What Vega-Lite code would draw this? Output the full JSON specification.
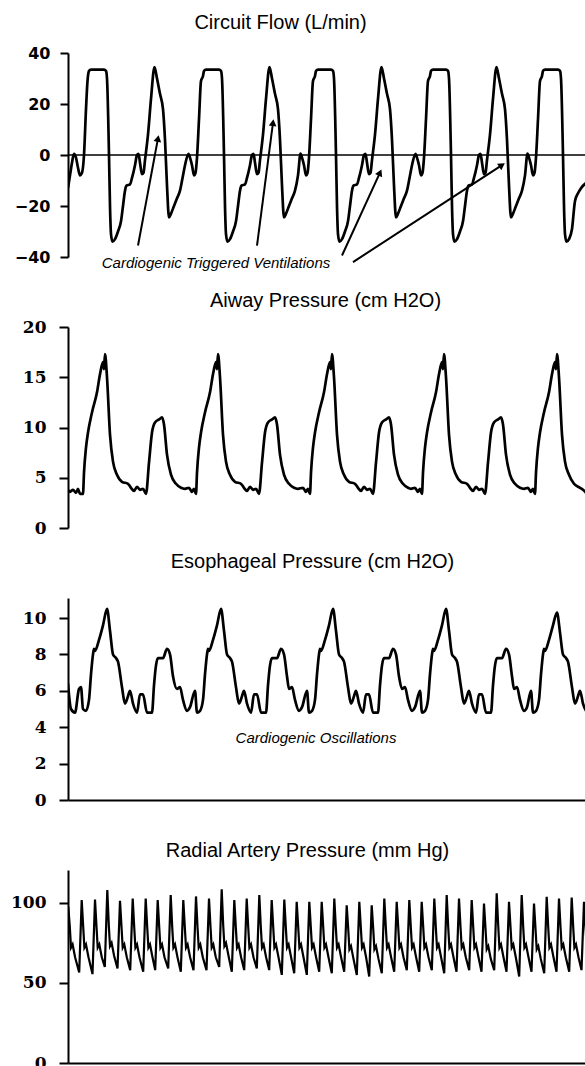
{
"$schema": "https://vega.github.io/schema/vega-lite/v6.json",
"padding": {"left": 10, "top": 12, "right": 0, "bottom": 0},
"background": "white",
"bounds": "flush",
"spacing": 70,
"config": {
  "view": {"stroke": null},
  "axis": {"grid": false, "domainColor": "black", "tickColor": "black", "labelColor": "black", "domainWidth": 2, "tickWidth": 2, "tickSize": 9, "labelPadding": 13, "titleColor": "black"},
  "title": {"font": "Liberation Sans", "fontSize": 20, "fontWeight": "normal", "color": "black", "frame": "group", "anchor": "middle", "baseline": "alphabetic"}
},
"datasets": {
"flow": [
{"t":68,"v":-13},{"t":70,"v":-8},{"t":72,"v":-3},{"t":74,"v":0.5},{"t":76,"v":-1},{"t":78,"v":-5},{"t":80,"v":-8},{"t":82,"v":-7},{"t":84,"v":0},{"t":86,"v":18},{"t":87.5,"v":29},
{"t":88,"v":31},{"t":89,"v":33},{"t":91,"v":33.5},{"t":98,"v":33.5},{"t":104,"v":33.5},{"t":106,"v":33},{"t":107,"v":30},{"t":109,"v":0},{"t":110,"v":-20},{"t":111,"v":-31},{"t":112.5,"v":-34},{"t":115,"v":-33},{"t":118,"v":-30},{"t":121,"v":-26},{"t":123,"v":-20},{"t":125,"v":-14},{"t":126.5,"v":-12},{"t":130,"v":-11.5},{"t":132,"v":-9},{"t":135,"v":-4},{"t":137,"v":0},{"t":138.5,"v":0.5},{"t":140,"v":-3},{"t":142,"v":-7.5},{"t":143.5,"v":-7},{"t":145,"v":-2},{"t":148,"v":8},{"t":151,"v":22},{"t":154.5,"v":34.5},{"t":157,"v":30},{"t":160,"v":24},{"t":163,"v":18},{"t":165,"v":6},{"t":167,"v":-12},{"t":169,"v":-24.5},{"t":171,"v":-23},{"t":174,"v":-20},{"t":177,"v":-17},{"t":180,"v":-14},{"t":183,"v":-8},{"t":185,"v":-4},{"t":188.5,"v":0.5},{"t":190,"v":-1},{"t":192,"v":-4},{"t":194,"v":-8},{"t":195.5,"v":-7},{"t":197,"v":-1},{"t":199,"v":14},{"t":201,"v":29},
{"t":203,"v":31},{"t":204,"v":33},{"t":206,"v":33.5},{"t":213,"v":33.5},{"t":219,"v":33.5},{"t":221,"v":33},{"t":222,"v":30},{"t":224,"v":0},{"t":225,"v":-20},{"t":226,"v":-31},{"t":227.5,"v":-34},{"t":230,"v":-33},{"t":233,"v":-30},{"t":236,"v":-26},{"t":238,"v":-20},{"t":240,"v":-14},{"t":241.5,"v":-12},{"t":245,"v":-11.5},{"t":247,"v":-9},{"t":250,"v":-4},{"t":252,"v":0},{"t":253.5,"v":0.5},{"t":255,"v":-3},{"t":257,"v":-7.5},{"t":258.5,"v":-7},{"t":260,"v":-2},{"t":263,"v":8},{"t":266,"v":22},{"t":269.5,"v":34.5},{"t":272,"v":30},{"t":275,"v":24},{"t":278,"v":18},{"t":280,"v":6},{"t":282,"v":-12},{"t":284,"v":-24.5},{"t":286,"v":-23},{"t":289,"v":-20},{"t":292,"v":-17},{"t":295,"v":-14},{"t":298,"v":-8},{"t":300.5,"v":0.5},{"t":302,"v":-1},{"t":304,"v":-4},{"t":306,"v":-8},{"t":307.5,"v":-7},{"t":309,"v":-1},{"t":311,"v":14},{"t":313,"v":29},
{"t":315,"v":31},{"t":316,"v":33},{"t":318,"v":33.5},{"t":325,"v":33.5},{"t":331,"v":33.5},{"t":333,"v":33},{"t":334,"v":30},{"t":336,"v":0},{"t":337,"v":-20},{"t":338,"v":-31},{"t":339.5,"v":-34},{"t":342,"v":-33},{"t":345,"v":-30},{"t":348,"v":-26},{"t":350,"v":-20},{"t":352,"v":-14},{"t":353.5,"v":-12},{"t":357,"v":-11.5},{"t":359,"v":-9},{"t":362,"v":-4},{"t":364,"v":0},{"t":365.5,"v":0.5},{"t":367,"v":-3},{"t":369,"v":-7.5},{"t":370.5,"v":-7},{"t":372,"v":-2},{"t":375,"v":8},{"t":378,"v":22},{"t":381.5,"v":34.5},{"t":384,"v":30},{"t":387,"v":24},{"t":390,"v":18},{"t":392,"v":6},{"t":394,"v":-12},{"t":396,"v":-24.5},{"t":398,"v":-23},{"t":401,"v":-20},{"t":404,"v":-17},{"t":407,"v":-14},{"t":410,"v":-8},{"t":412,"v":-4},{"t":415.5,"v":0.5},{"t":417,"v":-1},{"t":419,"v":-4},{"t":421,"v":-8},{"t":422.5,"v":-7},{"t":424,"v":-1},{"t":426,"v":14},{"t":428,"v":29},
{"t":430,"v":31},{"t":431,"v":33},{"t":433,"v":33.5},{"t":440,"v":33.5},{"t":446,"v":33.5},{"t":448,"v":33},{"t":449,"v":30},{"t":451,"v":0},{"t":452,"v":-20},{"t":453,"v":-31},{"t":454.5,"v":-34},{"t":457,"v":-33},{"t":460,"v":-30},{"t":463,"v":-26},{"t":465,"v":-20},{"t":467,"v":-14},{"t":468.5,"v":-12},{"t":472,"v":-11.5},{"t":474,"v":-9},{"t":477,"v":-4},{"t":479,"v":0},{"t":480.5,"v":0.5},{"t":482,"v":-3},{"t":484,"v":-7.5},{"t":485.5,"v":-7},{"t":487,"v":-2},{"t":490,"v":8},{"t":493,"v":22},{"t":496.5,"v":34.5},{"t":499,"v":30},{"t":502,"v":24},{"t":505,"v":18},{"t":507,"v":6},{"t":509,"v":-12},{"t":511,"v":-24.5},{"t":513,"v":-23},{"t":516,"v":-20},{"t":519,"v":-17},{"t":522,"v":-14},{"t":525,"v":-8},{"t":527.5,"v":0.5},{"t":529,"v":-1},{"t":531,"v":-4},{"t":533,"v":-8},{"t":534.5,"v":-7},{"t":536,"v":-1},{"t":538,"v":14},{"t":540,"v":29},
{"t":542,"v":31},{"t":543,"v":33},{"t":545,"v":33.5},{"t":552,"v":33.5},{"t":558,"v":33.5},{"t":560,"v":33},{"t":561,"v":30},{"t":563,"v":0},{"t":564,"v":-20},{"t":565,"v":-31},{"t":566.5,"v":-34},{"t":569,"v":-33},{"t":572,"v":-29},{"t":575,"v":-18},{"t":578,"v":-15},{"t":581,"v":-13},{"t":586,"v":-11}
],
"paw": [
{"t":68,"v":3.8},{"t":70,"v":3.6},{"t":73,"v":3.8},{"t":76,"v":3.5},{"t":78,"v":3.9},{"t":80,"v":3.4},{"t":83,"v":3.4},
{"t":84,"v":5.5},{"t":86,"v":8},{"t":88,"v":9.5},{"t":92,"v":11.5},{"t":97,"v":13.5},{"t":100,"v":15.3},{"t":103,"v":16.5},{"t":104,"v":15.8},{"t":105,"v":17.3},{"t":107,"v":15},{"t":110,"v":9.3},{"t":113,"v":6.6},{"t":117,"v":5.3},{"t":122,"v":4.6},{"t":128,"v":4.4},{"t":131,"v":4.0},{"t":134,"v":3.7},{"t":137,"v":4.1},{"t":140,"v":3.8},{"t":143,"v":3.9},{"t":146,"v":3.4},{"t":149,"v":6.5},{"t":152,"v":9.5},{"t":155,"v":10.5},{"t":159,"v":10.8},{"t":162,"v":11},{"t":164,"v":10.3},{"t":167,"v":7.3},{"t":171,"v":5.3},{"t":176,"v":4.4},{"t":181,"v":4.0},{"t":185,"v":3.9},{"t":189,"v":4.0},{"t":192,"v":3.6},{"t":194,"v":3.9},{"t":196,"v":3.4},
{"t":197,"v":5.5},{"t":199,"v":8},{"t":201,"v":9.5},{"t":205,"v":11.5},{"t":210,"v":13.5},{"t":213,"v":15.3},{"t":216,"v":16.5},{"t":217,"v":15.8},{"t":218,"v":17.3},{"t":220,"v":15},{"t":223,"v":9.3},{"t":226,"v":6.6},{"t":230,"v":5.3},{"t":235,"v":4.6},{"t":241,"v":4.4},{"t":244,"v":4.0},{"t":247,"v":3.7},{"t":250,"v":4.1},{"t":253,"v":3.8},{"t":256,"v":3.9},{"t":259,"v":3.4},{"t":262,"v":6.5},{"t":265,"v":9.5},{"t":268,"v":10.5},{"t":272,"v":10.8},{"t":275,"v":11},{"t":277,"v":10.3},{"t":280,"v":7.3},{"t":284,"v":5.3},{"t":289,"v":4.4},{"t":294,"v":4.0},{"t":298,"v":3.9},{"t":303,"v":4.0},{"t":306,"v":3.6},{"t":308,"v":3.9},{"t":310,"v":3.4},
{"t":311,"v":5.5},{"t":313,"v":8},{"t":315,"v":9.5},{"t":319,"v":11.5},{"t":324,"v":13.5},{"t":327,"v":15.3},{"t":330,"v":16.5},{"t":331,"v":15.8},{"t":332,"v":17.3},{"t":334,"v":15},{"t":337,"v":9.3},{"t":340,"v":6.6},{"t":344,"v":5.3},{"t":349,"v":4.6},{"t":355,"v":4.4},{"t":358,"v":4.0},{"t":361,"v":3.7},{"t":364,"v":4.1},{"t":367,"v":3.8},{"t":370,"v":3.9},{"t":373,"v":3.4},{"t":376,"v":6.5},{"t":379,"v":9.5},{"t":382,"v":10.5},{"t":386,"v":10.8},{"t":389,"v":11},{"t":391,"v":10.3},{"t":394,"v":7.3},{"t":398,"v":5.3},{"t":403,"v":4.4},{"t":408,"v":4.0},{"t":411,"v":3.9},{"t":415,"v":4.0},{"t":418,"v":3.6},{"t":420,"v":3.9},{"t":422,"v":3.4},
{"t":423,"v":5.5},{"t":425,"v":8},{"t":427,"v":9.5},{"t":431,"v":11.5},{"t":436,"v":13.5},{"t":439,"v":15.3},{"t":442,"v":16.5},{"t":443,"v":15.8},{"t":444,"v":17.3},{"t":446,"v":15},{"t":449,"v":9.3},{"t":452,"v":6.6},{"t":456,"v":5.3},{"t":461,"v":4.6},{"t":467,"v":4.4},{"t":470,"v":4.0},{"t":473,"v":3.7},{"t":476,"v":4.1},{"t":479,"v":3.8},{"t":482,"v":3.9},{"t":485,"v":3.4},{"t":488,"v":6.5},{"t":491,"v":9.5},{"t":494,"v":10.5},{"t":498,"v":10.8},{"t":501,"v":11},{"t":503,"v":10.3},{"t":506,"v":7.3},{"t":510,"v":5.3},{"t":515,"v":4.4},{"t":520,"v":4.0},{"t":524,"v":3.9},{"t":528,"v":4.0},{"t":531,"v":3.6},{"t":533,"v":3.9},{"t":535,"v":3.4},
{"t":536,"v":5.5},{"t":538,"v":8},{"t":540,"v":9.5},{"t":544,"v":11.5},{"t":549,"v":13.5},{"t":552,"v":15.3},{"t":555,"v":16.5},{"t":556,"v":15.8},{"t":557,"v":17.3},{"t":559,"v":15},{"t":562,"v":9.3},{"t":565,"v":6.6},{"t":569,"v":5.3},{"t":574,"v":4.4},{"t":580,"v":4.0},{"t":583,"v":3.8},{"t":586,"v":3.5}
],
"pes": [
{"t":68,"v":6.4},{"t":71,"v":5.0},{"t":75,"v":4.8},{"t":79,"v":6.1},{"t":81,"v":6.2},{"t":83,"v":5.0},{"t":86,"v":4.9},
{"t":89,"v":5.5},{"t":91,"v":6.9},{"t":93,"v":8.0},{"t":94,"v":8.3},{"t":95,"v":8.2},{"t":99,"v":8.8},{"t":103,"v":9.6},{"t":107,"v":10.5},{"t":110,"v":9.3},{"t":113,"v":8.0},{"t":116,"v":7.8},{"t":118,"v":7.6},{"t":122,"v":6.2},{"t":125,"v":5.3},{"t":128,"v":5.7},{"t":130,"v":6.0},{"t":133,"v":5.3},{"t":137,"v":4.8},{"t":140,"v":5.8},{"t":143,"v":5.8},{"t":147,"v":4.8},{"t":152,"v":4.8},{"t":154,"v":6.3},{"t":156,"v":7.4},{"t":158,"v":7.8},{"t":163,"v":7.8},{"t":167,"v":8.3},{"t":170,"v":8.0},{"t":173,"v":6.8},{"t":177,"v":6.1},{"t":180,"v":6.2},{"t":183,"v":5.5},{"t":187,"v":4.9},{"t":190,"v":5.1},{"t":195,"v":6.0},{"t":197,"v":4.8},{"t":200,"v":4.9},
{"t":203,"v":5.5},{"t":205,"v":6.9},{"t":207,"v":8.0},{"t":208,"v":8.3},{"t":209,"v":8.2},{"t":213,"v":8.8},{"t":217,"v":9.6},{"t":221,"v":10.5},{"t":224,"v":9.3},{"t":227,"v":8.0},{"t":230,"v":7.8},{"t":232,"v":7.6},{"t":236,"v":6.2},{"t":239,"v":5.3},{"t":242,"v":5.7},{"t":244,"v":6.0},{"t":247,"v":5.3},{"t":251,"v":4.8},{"t":254,"v":5.8},{"t":257,"v":5.8},{"t":261,"v":4.8},{"t":266,"v":4.8},{"t":268,"v":6.3},{"t":270,"v":7.4},{"t":272,"v":7.8},{"t":277,"v":7.8},{"t":281,"v":8.3},{"t":284,"v":8.0},{"t":287,"v":6.8},{"t":289,"v":6.1},{"t":292,"v":6.2},{"t":295,"v":5.5},{"t":299,"v":4.9},{"t":302,"v":5.1},{"t":307,"v":6.0},{"t":309,"v":4.8},{"t":312,"v":4.9},
{"t":315,"v":5.5},{"t":317,"v":6.9},{"t":319,"v":8.0},{"t":320,"v":8.3},{"t":321,"v":8.2},{"t":325,"v":8.8},{"t":329,"v":9.6},{"t":333,"v":10.5},{"t":336,"v":9.3},{"t":339,"v":8.0},{"t":342,"v":7.8},{"t":344,"v":7.6},{"t":348,"v":6.2},{"t":351,"v":5.3},{"t":354,"v":5.7},{"t":356,"v":6.0},{"t":359,"v":5.3},{"t":363,"v":4.8},{"t":366,"v":5.8},{"t":369,"v":5.8},{"t":373,"v":4.8},{"t":378,"v":4.8},{"t":380,"v":6.3},{"t":382,"v":7.4},{"t":384,"v":7.8},{"t":389,"v":7.8},{"t":393,"v":8.3},{"t":396,"v":8.0},{"t":399,"v":6.8},{"t":402,"v":6.1},{"t":405,"v":6.2},{"t":408,"v":5.5},{"t":412,"v":4.9},{"t":415,"v":5.1},{"t":420,"v":6.0},{"t":422,"v":4.8},{"t":425,"v":4.9},
{"t":428,"v":5.5},{"t":430,"v":6.9},{"t":432,"v":8.0},{"t":433,"v":8.3},{"t":434,"v":8.2},{"t":438,"v":8.8},{"t":442,"v":9.6},{"t":446,"v":10.5},{"t":449,"v":9.3},{"t":452,"v":8.0},{"t":455,"v":7.8},{"t":457,"v":7.6},{"t":461,"v":6.2},{"t":464,"v":5.3},{"t":467,"v":5.7},{"t":469,"v":6.0},{"t":472,"v":5.3},{"t":476,"v":4.8},{"t":479,"v":5.8},{"t":482,"v":5.8},{"t":486,"v":4.8},{"t":491,"v":4.8},{"t":493,"v":6.3},{"t":495,"v":7.4},{"t":497,"v":7.8},{"t":502,"v":7.8},{"t":506,"v":8.3},{"t":509,"v":8.0},{"t":512,"v":6.8},{"t":514,"v":6.1},{"t":517,"v":6.2},{"t":520,"v":5.5},{"t":524,"v":4.9},{"t":527,"v":5.1},{"t":531,"v":6.0},{"t":533,"v":4.8},{"t":536,"v":4.9},
{"t":539,"v":5.5},{"t":541,"v":6.9},{"t":543,"v":8.0},{"t":544,"v":8.3},{"t":545,"v":8.2},{"t":549,"v":8.8},{"t":553,"v":9.6},{"t":557,"v":10.3},{"t":560,"v":9.2},{"t":563,"v":8.0},{"t":566,"v":7.8},{"t":568,"v":7.6},{"t":572,"v":6.2},{"t":575,"v":5.3},{"t":578,"v":5.7},{"t":580,"v":6.0},{"t":583,"v":5.3},{"t":587,"v":4.8}
],
"art": [
{"t":65.8,"v":56},{"t":68.3,"v":97.5},{"t":69.8,"v":85},{"t":71,"v":72},{"t":72.6,"v":74},{"t":75.1,"v":66},
{"t":79.2,"v":56.5},{"t":81.7,"v":101.7},{"t":83.2,"v":85},{"t":84.4,"v":72},{"t":86,"v":74},{"t":88.5,"v":66},
{"t":92.5,"v":55.5},{"t":95,"v":102},{"t":96.5,"v":85},{"t":97.7,"v":72},{"t":99.3,"v":74},{"t":101.8,"v":66},
{"t":104.8,"v":60},{"t":107.3,"v":108},{"t":108.8,"v":86},{"t":110,"v":73},{"t":111.6,"v":75},{"t":114.1,"v":67},
{"t":117.5,"v":59},{"t":120,"v":101.3},{"t":121.5,"v":85},{"t":122.7,"v":72},{"t":124.3,"v":74},{"t":126.8,"v":66},
{"t":130.2,"v":58},{"t":132.7,"v":102.7},{"t":134.2,"v":85},{"t":135.4,"v":72},{"t":137,"v":74},{"t":139.5,"v":66},
{"t":143.2,"v":57},{"t":145.7,"v":102.7},{"t":147.2,"v":85},{"t":148.4,"v":72},{"t":150,"v":74},{"t":152.5,"v":66},
{"t":155.2,"v":58},{"t":157.7,"v":101.7},{"t":159.2,"v":85},{"t":160.4,"v":72},{"t":162,"v":74},{"t":164.5,"v":66},
{"t":168.2,"v":59},{"t":170.7,"v":104.8},{"t":172.2,"v":85},{"t":173.4,"v":72},{"t":175,"v":74},{"t":177.5,"v":66},
{"t":180.8,"v":57},{"t":183.3,"v":101.7},{"t":184.8,"v":85},{"t":186,"v":72},{"t":187.6,"v":74},{"t":190.1,"v":66},
{"t":193.5,"v":58},{"t":196,"v":104},{"t":197.5,"v":85},{"t":198.7,"v":72},{"t":200.3,"v":74},{"t":202.8,"v":66},
{"t":206.5,"v":58},{"t":209,"v":102.7},{"t":210.5,"v":85},{"t":211.7,"v":72},{"t":213.3,"v":74},{"t":215.8,"v":66},
{"t":219.2,"v":60},{"t":221.7,"v":108.4},{"t":223.2,"v":86},{"t":224.4,"v":73},{"t":226,"v":75},{"t":228.5,"v":67},
{"t":231.8,"v":57},{"t":234.3,"v":101.7},{"t":235.8,"v":85},{"t":237,"v":72},{"t":238.6,"v":74},{"t":241.1,"v":66},
{"t":244.2,"v":58},{"t":246.7,"v":102.7},{"t":248.2,"v":85},{"t":249.4,"v":72},{"t":251,"v":74},{"t":253.5,"v":66},
{"t":256.8,"v":59},{"t":259.3,"v":104.8},{"t":260.8,"v":85},{"t":262,"v":72},{"t":263.6,"v":74},{"t":266.1,"v":66},
{"t":269.2,"v":58},{"t":271.7,"v":101.7},{"t":273.2,"v":85},{"t":274.4,"v":72},{"t":276,"v":74},{"t":278.5,"v":66},
{"t":281.8,"v":55},{"t":284.3,"v":102},{"t":285.8,"v":85},{"t":287,"v":72},{"t":288.6,"v":74},{"t":291.1,"v":66},
{"t":294.2,"v":56},{"t":296.7,"v":100.6},{"t":298.2,"v":85},{"t":299.4,"v":72},{"t":301,"v":74},{"t":303.5,"v":66},
{"t":306.8,"v":55},{"t":309.3,"v":100.6},{"t":310.8,"v":85},{"t":312,"v":72},{"t":313.6,"v":74},{"t":316.1,"v":66},
{"t":319.2,"v":57},{"t":321.7,"v":100.6},{"t":323.2,"v":85},{"t":324.4,"v":72},{"t":326,"v":74},{"t":328.5,"v":66},
{"t":331.8,"v":56},{"t":334.3,"v":102.7},{"t":335.8,"v":85},{"t":337,"v":72},{"t":338.6,"v":74},{"t":341.1,"v":66},
{"t":344.2,"v":57},{"t":346.7,"v":98.5},{"t":348.2,"v":84},{"t":349.4,"v":71},{"t":351,"v":73},{"t":353.5,"v":65},
{"t":356.8,"v":55},{"t":359.3,"v":100.6},{"t":360.8,"v":85},{"t":362,"v":72},{"t":363.6,"v":74},{"t":366.1,"v":66},
{"t":369.2,"v":54},{"t":371.7,"v":98.5},{"t":373.2,"v":84},{"t":374.4,"v":71},{"t":376,"v":73},{"t":378.5,"v":65},
{"t":381.8,"v":56},{"t":384.3,"v":102.7},{"t":385.8,"v":85},{"t":387,"v":72},{"t":388.6,"v":74},{"t":391.1,"v":66},
{"t":394.2,"v":57},{"t":396.7,"v":100.6},{"t":398.2,"v":85},{"t":399.4,"v":72},{"t":401,"v":74},{"t":403.5,"v":66},
{"t":406.8,"v":58},{"t":409.3,"v":101.7},{"t":410.8,"v":85},{"t":412,"v":72},{"t":413.6,"v":74},{"t":416.1,"v":66},
{"t":419.2,"v":57},{"t":421.7,"v":100.6},{"t":423.2,"v":85},{"t":424.4,"v":72},{"t":426,"v":74},{"t":428.5,"v":66},
{"t":431.8,"v":58},{"t":434.3,"v":102.7},{"t":435.8,"v":85},{"t":437,"v":72},{"t":438.6,"v":74},{"t":441.1,"v":66},
{"t":444.2,"v":56},{"t":446.7,"v":104.8},{"t":448.2,"v":85},{"t":449.4,"v":72},{"t":451,"v":74},{"t":453.5,"v":66},
{"t":456.5,"v":57},{"t":459,"v":102.7},{"t":460.5,"v":85},{"t":461.7,"v":72},{"t":463.3,"v":74},{"t":465.8,"v":66},
{"t":469.2,"v":58},{"t":471.7,"v":101.7},{"t":473.2,"v":85},{"t":474.4,"v":72},{"t":476,"v":74},{"t":478.5,"v":66},
{"t":481.5,"v":57},{"t":484,"v":99.6},{"t":485.5,"v":84},{"t":486.7,"v":71},{"t":488.3,"v":73},{"t":490.8,"v":65},
{"t":494.2,"v":58},{"t":496.7,"v":105.9},{"t":498.2,"v":86},{"t":499.4,"v":72},{"t":501,"v":74},{"t":503.5,"v":66},
{"t":506.5,"v":57},{"t":509,"v":100.6},{"t":510.5,"v":85},{"t":511.7,"v":72},{"t":513.3,"v":74},{"t":515.8,"v":66},
{"t":519.2,"v":54},{"t":521.7,"v":104.8},{"t":523.2,"v":85},{"t":524.4,"v":72},{"t":526,"v":74},{"t":528.5,"v":66},
{"t":531.5,"v":57},{"t":534,"v":99.6},{"t":535.5,"v":84},{"t":536.7,"v":71},{"t":538.3,"v":73},{"t":540.8,"v":65},
{"t":544.2,"v":56},{"t":546.7,"v":103.8},{"t":548.2,"v":85},{"t":549.4,"v":72},{"t":551,"v":74},{"t":553.5,"v":66},
{"t":556.5,"v":57},{"t":559,"v":102.7},{"t":560.5,"v":85},{"t":561.7,"v":72},{"t":563.3,"v":74},{"t":565.8,"v":66},
{"t":569.2,"v":57},{"t":571.7,"v":103.3},{"t":573.2,"v":85},{"t":574.4,"v":72},{"t":576,"v":74},{"t":578.5,"v":66},
{"t":581.5,"v":58},{"t":584,"v":100.6},{"t":585.5,"v":85},{"t":586.7,"v":72}
],
"arrows": [
{"t":138,"v":-35.5,"t2":158,"v2":6.5,"ang":10.6},
{"t":257,"v":-35.5,"t2":273,"v2":12.7,"ang":7.4},
{"t":342,"v":-39.4,"t2":380,"v2":-6.9,"ang":24.6},
{"t":353,"v":-42,"t2":502,"v2":-4,"ang":56.9}
]
},
"vconcat": [
{
 "width": 517, "height": 204,
 "title": {"text": "Circuit Flow (L/min)", "dx": -46, "offset": 12.5},
 "layer": [
  {"data": {"values": [{}]}, "mark": {"type": "rule", "color": "black", "strokeWidth": 1.5}, "encoding": {"y": {"datum": 0, "type": "quantitative"}}},
  {"data": {"name": "flow"}, "mark": {"type": "line", "color": "black", "strokeWidth": 2.7, "interpolate": "monotone", "clip": true},
   "encoding": {
    "x": {"field": "t", "type": "quantitative", "scale": {"domain": [68, 585], "nice": false, "zero": false}, "axis": null},
    "y": {"field": "v", "type": "quantitative", "scale": {"domain": [-40, 40], "nice": false}, "axis": {"values": [-40, -20, 0, 20, 40], "title": null, "labelFont": "DejaVu Sans", "labelFontWeight": "bold", "labelFontSize": 16, "tickSize": 8, "labelPadding": 10}}}},
  {"data": {"name": "arrows"}, "mark": {"type": "rule", "color": "black", "strokeWidth": 2},
   "encoding": {"x": {"field": "t", "type": "quantitative"}, "y": {"field": "v", "type": "quantitative"}, "x2": {"field": "t2"}, "y2": {"field": "v2"}}},
  {"data": {"name": "arrows"}, "mark": {"type": "point", "shape": "triangle-up", "filled": true, "color": "black", "size": 60, "opacity": 1},
   "encoding": {"x": {"field": "t2", "type": "quantitative"}, "y": {"field": "v2", "type": "quantitative"}, "angle": {"field": "ang", "type": "quantitative", "scale": null}}},
  {"data": {"values": [{"t": 216, "v": -42.5, "label": "Cardiogenic Triggered Ventilations"}]}, "mark": {"type": "text", "font": "Liberation Sans", "fontStyle": "italic", "fontSize": 15, "color": "black"},
   "encoding": {"x": {"field": "t", "type": "quantitative"}, "y": {"field": "v", "type": "quantitative"}, "text": {"field": "label"}}}
 ]
},
{
 "width": 517, "height": 201,
 "title": {"text": "Aiway Pressure (cm H2O)", "dx": -1, "offset": 7},
 "data": {"name": "paw"},
 "mark": {"type": "line", "color": "black", "strokeWidth": 2.7, "interpolate": "monotone", "clip": true},
 "encoding": {
  "x": {"field": "t", "type": "quantitative", "scale": {"domain": [68, 585], "nice": false, "zero": false}, "axis": null},
  "y": {"field": "v", "type": "quantitative", "scale": {"domain": [0, 20], "nice": false}, "axis": {"values": [0, 5, 10, 15, 20], "title": null, "labelFont": "DejaVu Serif", "labelFontWeight": "bold", "labelFontSize": 17}}}
},
{
 "width": 517, "height": 202,
 "title": {"text": "Esophageal Pressure (cm H2O)", "dx": -14, "offset": 26.5},
 "layer": [
  {"data": {"name": "pes"}, "mark": {"type": "line", "color": "black", "strokeWidth": 2.7, "interpolate": "monotone", "clip": true},
   "encoding": {
    "x": {"field": "t", "type": "quantitative", "scale": {"domain": [68, 585], "nice": false, "zero": false}, "axis": {"title": null, "labels": false, "ticks": false, "domain": true}},
    "y": {"field": "v", "type": "quantitative", "scale": {"domain": [0, 11.1], "nice": false}, "axis": {"values": [0, 2, 4, 6, 8, 10], "title": null, "labelFont": "DejaVu Serif", "labelFontWeight": "bold", "labelFontSize": 17}}}},
  {"data": {"values": [{"t": 316, "v": 3.4, "label": "Cardiogenic Oscillations"}]}, "mark": {"type": "text", "font": "Liberation Sans", "fontStyle": "italic", "fontSize": 15, "color": "black"},
   "encoding": {"x": {"field": "t", "type": "quantitative"}, "y": {"field": "v", "type": "quantitative"}, "text": {"field": "label"}}}
 ]
},
{
 "width": 517, "height": 193,
 "title": {"text": "Radial Artery Pressure (mm Hg)", "dx": -19, "offset": 9.5},
 "data": {"name": "art"},
 "mark": {"type": "line", "color": "black", "strokeWidth": 2.2, "clip": true},
 "encoding": {
  "x": {"field": "t", "type": "quantitative", "scale": {"domain": [68, 585], "nice": false, "zero": false}, "axis": {"title": null, "labels": false, "ticks": false, "domain": true}},
  "y": {"field": "v", "type": "quantitative", "scale": {"domain": [0, 120.5], "nice": false}, "axis": {"values": [0, 50, 100], "title": null, "labelFont": "DejaVu Serif", "labelFontWeight": "bold", "labelFontSize": 17}}}
}
]
}
